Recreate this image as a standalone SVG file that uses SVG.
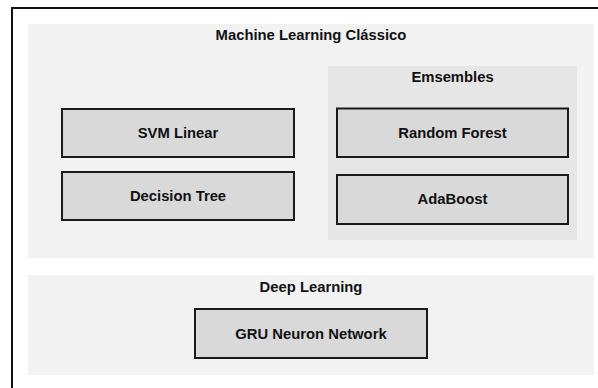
<svg xmlns="http://www.w3.org/2000/svg" width="598" height="388" viewBox="0 0 598 388">
  <style>
    .frame { fill: #ffffff; stroke: #111111; stroke-width: 2; }
    .panel { fill: #f2f2f2; stroke: none; }
    .subpanel { fill: #e6e6e6; stroke: none; }
    .box { fill: #d9d9d9; stroke: #1a1a1a; stroke-width: 2; }
    .label { font-family: "Liberation Sans", Arial, sans-serif; font-size: 14.8px; font-weight: bold; fill: #111111; text-anchor: middle; }
  </style>
  <rect x="0" y="0" width="598" height="388" fill="#ffffff"/>
  <rect class="frame" x="12" y="8" width="600" height="400"/>

  <g id="classic-ml">
    <rect class="panel" x="28" y="24" width="566" height="234"/>
    <text class="label" x="311" y="40">Machine Learning Clássico</text>
  </g>

  <g id="ensembles">
    <rect class="subpanel" x="328" y="66" width="249" height="174"/>
    <text class="label" x="452.5" y="82">Emsembles</text>
  </g>

  <g id="svm-linear">
    <rect class="box" x="62" y="109" width="232" height="48"/>
    <text class="label" x="178" y="138">SVM Linear</text>
  </g>

  <g id="decision-tree">
    <rect class="box" x="62" y="172" width="232" height="48"/>
    <text class="label" x="178" y="200.5">Decision Tree</text>
  </g>

  <g id="random-forest">
    <rect class="box" x="337" y="108.5" width="231" height="48.5"/>
    <text class="label" x="452.5" y="138">Random Forest</text>
  </g>

  <g id="adaboost">
    <rect class="box" x="337" y="175" width="231" height="49"/>
    <text class="label" x="452.5" y="204">AdaBoost</text>
  </g>

  <g id="deep-learning">
    <rect class="panel" x="28" y="275" width="566" height="100"/>
    <text class="label" x="311" y="292">Deep Learning</text>
  </g>

  <g id="gru-network">
    <rect class="box" x="195" y="309" width="232" height="49"/>
    <text class="label" x="311" y="338.5">GRU Neuron Network</text>
  </g>

  <g id="connectors"></g>
</svg>
